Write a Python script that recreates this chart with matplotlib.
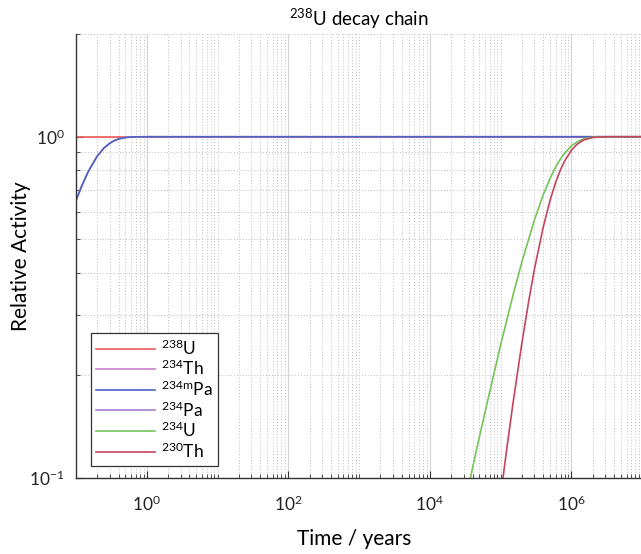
import numpy as np
import matplotlib
matplotlib.use('Agg')
import matplotlib.pyplot as plt
from matplotlib.ticker import FixedLocator, LogLocator, NullFormatter

plt.rcParams['font.family'] = ['Lato', 'DejaVu Sans']
plt.rcParams['mathtext.fontset'] = 'custom'
plt.rcParams['mathtext.rm'] = 'Lato'
plt.rcParams['mathtext.it'] = 'Lato:italic'
plt.rcParams['mathtext.bf'] = 'Lato:bold'

# --- data (time in years, relative activity) ---
t_u238 = [0.1, 1e7]
a_u238 = [1.0, 1.0]

# 234Th and 234mPa grow in together (short half-lives)
t_th234 = [0.1, 0.12, 0.15, 0.2, 0.25, 0.3, 0.35, 0.4, 0.5, 0.6, 0.7, 1.0, 1e7]
a_th234 = [0.650, 0.716, 0.793, 0.878, 0.928, 0.957, 0.975, 0.985, 0.995, 0.998, 0.9994, 1.0, 1.0]
t_pa234m = t_th234
a_pa234m = a_th234

# 234Pa stays far below the visible range
t_pa234 = [0.1, 1e7]
a_pa234 = [0.0016, 0.0016]

t_u234 = [3.5e4, 4e4, 5e4, 7e4, 1e5, 1.5e5, 2e5, 3e5, 4e5, 5e5, 6e5, 7e5, 8e5,
          1e6, 1.2e6, 1.5e6, 2e6, 3e6, 1e7]
a_u234 = [0.094, 0.107, 0.132, 0.179, 0.246, 0.345, 0.431, 0.571, 0.677, 0.756,
          0.816, 0.861, 0.895, 0.941, 0.966, 0.986, 0.9965, 0.9998, 1.0]

t_th230 = [1e5, 1.05e5, 1.2e5, 1.5e5, 2e5, 2.5e5, 3e5, 4e5, 5e5, 6e5, 7e5, 8e5,
           1e6, 1.2e6, 1.5e6, 2e6, 3e6, 1e7]
a_th230 = [0.088, 0.096, 0.119, 0.167, 0.250, 0.332, 0.410, 0.545, 0.653, 0.737,
           0.801, 0.849, 0.914, 0.951, 0.979, 0.995, 0.9997, 1.0]

labels = ['$^{238}$U', '$^{234}$Th', '$^{234\\mathrm{m}}$Pa', '$^{234}$Pa', '$^{234}$U', '$^{230}$Th']
colors = ['#f05a5a', '#c97fc9', '#4a63c4', '#a77ac9', '#74c45a', '#c4455f']

#%%
fig = plt.figure(figsize=(6.41, 5.54), dpi=100)
ax = fig.add_axes([76/641, 1 - 478/554, 1 - 76/641 + 0.002, (478 - 34)/554])

series = [(t_u238, a_u238), (t_th234, a_th234), (t_pa234m, a_pa234m),
          (t_pa234, a_pa234), (t_u234, a_u234), (t_th230, a_th230)]
for (t, a), lab, col in zip(series, labels, colors):
    ax.plot(t, a, color=col, lw=1.2, label=lab)

ax.set_xscale('log')
ax.set_yscale('log')
ax.set_xlim(1e-1, 1e7)
ax.set_ylim(1e-1, 2)

ax.xaxis.set_major_locator(FixedLocator([1e0, 1e2, 1e4, 1e6]))
ax.xaxis.set_minor_locator(LogLocator(base=10, subs=np.arange(1, 10), numticks=30))
ax.xaxis.set_minor_formatter(NullFormatter())
ax.set_xticklabels(['$10^{0}$', '$10^{2}$', '$10^{4}$', '$10^{6}$'])
ax.yaxis.set_major_locator(FixedLocator([1e-1, 1e0]))
ax.yaxis.set_minor_locator(LogLocator(base=10, subs=np.arange(1, 10), numticks=30))
ax.yaxis.set_minor_formatter(NullFormatter())
ax.set_yticklabels(['$10^{-1}$', '$10^{0}$'])

ax.grid(True, which='major', color='#d4d4d4', lw=0.8, ls='-')
ax.grid(True, which='minor', color='#bdbdbd', lw=0.7, ls=(0, (1, 2)))
ax.set_axisbelow(True)

ax.tick_params(which='both', direction='in', top=False, right=False, labelsize=12.5,
               colors='#333333', labelcolor='#222222')
ax.tick_params(axis='x', which='major', length=5, pad=12)
ax.tick_params(axis='y', which='major', length=5, pad=8)
ax.tick_params(which='minor', length=3)
for s in ['top', 'right']:
    ax.spines[s].set_visible(False)
for s in ['left', 'bottom']:
    ax.spines[s].set_color('#333333')
    ax.spines[s].set_linewidth(1.0)

ax.set_title('$^{238}$U decay chain', fontsize=13.5, pad=6)
ax.set_xlabel('Time / years', fontsize=15)
ax.xaxis.set_label_coords(0.492, -0.115)
ax.set_ylabel('Relative Activity', fontsize=15)
ax.yaxis.set_label_coords(-0.08, 0.5)

leg = ax.legend(loc='lower left', bbox_to_anchor=(0.026, 0.027), borderaxespad=0,
                fontsize=12.5, frameon=True, fancybox=False, edgecolor='#333333',
                framealpha=1, handlelength=3.4, handletextpad=0.35, labelspacing=0.07,
                borderpad=0.3)
leg.get_frame().set_linewidth(0.9)

fig.savefig('out.png', dpi=100)
